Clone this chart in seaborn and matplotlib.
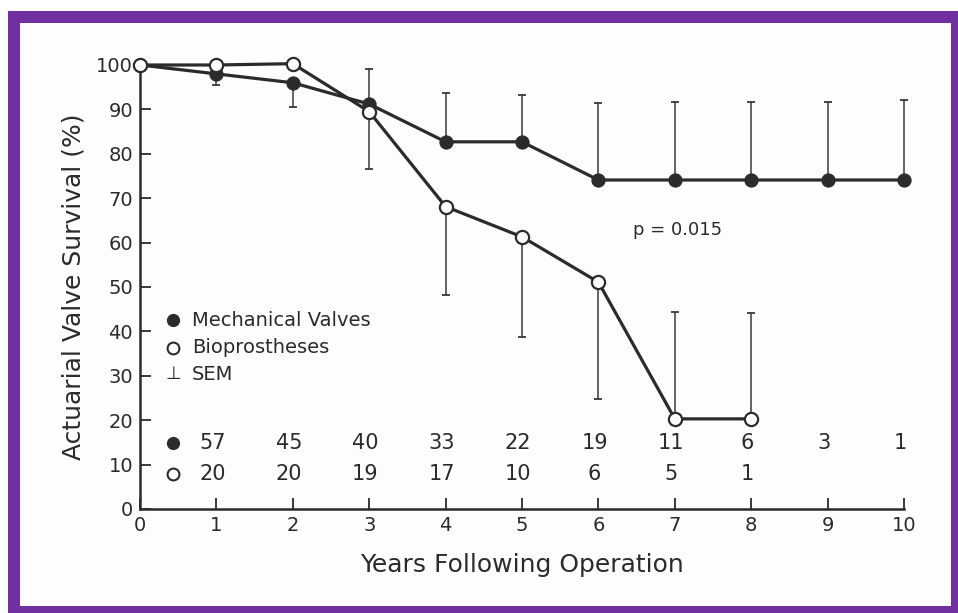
import matplotlib
matplotlib.use("Agg")
import matplotlib.pyplot as plt
import seaborn as sns
import pandas as pd
from matplotlib.patches import Rectangle

# ---- data ----
years_mech = [0, 1, 2, 3, 4, 5, 6, 7, 8, 9, 10]
survival_mech = [100, 98, 96, 91.2, 82.7, 82.7, 74.1, 74.1, 74.1, 74.1, 74.1]
years_bio = [0, 1, 2, 3, 4, 5, 6, 7, 8]
survival_bio = [100, 100, 100.3, 89.5, 68.1, 61.3, 51.1, 20.3, 20.3]

# SEM bar end points (one-sided bars as drawn in the figure)
sem_years_mech = [1, 2, 3, 4, 5, 6, 7, 8, 9, 10]
sem_end_mech = [95.5, 90.6, 99.0, 93.7, 93.3, 91.4, 91.6, 91.6, 91.6, 92.1]
sem_years_bio = [3, 4, 5, 6, 7, 8]
sem_end_bio = [76.5, 48.3, 38.8, 24.7, 44.4, 44.1]

# numbers at risk
risk_years_mech = [1, 2, 3, 4, 5, 6, 7, 8, 9, 10]
risk_mech = ["57", "45", "40", "33", "22", "19", "11", "6", "3", "1"]
risk_years_bio = [1, 2, 3, 4, 5, 6, 7, 8]
risk_bio = ["20", "20", "19", "17", "10", "6", "5", "1"]

xticks = list(range(0, 11))
yticks = list(range(0, 101, 10))

sns.set_theme(style="white")
plt.rcParams['font.family'] = ['DejaVu Sans']

W, H = 958, 613
fig = plt.figure(figsize=(W / 100, H / 100), dpi=100)
fig.patch.set_facecolor("white")

# frame: purple border with inner page
bg = fig.add_axes([0, 0, 1, 1], zorder=-10)
bg.set_xlim(0, W)
bg.set_ylim(0, H)
bg.axis("off")
bg.add_patch(Rectangle((8, 0), W - 8, H - 11, facecolor="#7030a0", edgecolor="none"))
bg.add_patch(Rectangle((20, 7), 951 - 20, 590 - 7, facecolor="#fcfdfc", edgecolor="none"))

ax = fig.add_axes([140 / W, 104 / H, 764 / W, 444 / H], zorder=1)
ax.set_facecolor("none")

ink = "#2b2b2b"

df_m = pd.DataFrame({"Year": years_mech, "Survival": survival_mech})
df_b = pd.DataFrame({"Year": years_bio, "Survival": survival_bio})

# SEM bars
for x, ye, yv in zip(sem_years_mech, sem_end_mech, survival_mech[1:]):
    ax.plot([x, x], [yv, ye], color="#3a3a3a", lw=1.1, zorder=1, clip_on=False)
    ax.plot([x], [ye], marker="_", ms=6, mew=1.3, color="#3a3a3a", zorder=1, clip_on=False)
for x, ye in zip(sem_years_bio, sem_end_bio):
    yv = survival_bio[years_bio.index(x)]
    ax.plot([x, x], [yv, ye], color="#3a3a3a", lw=1.1, zorder=1, clip_on=False)
    ax.plot([x], [ye], marker="_", ms=6, mew=1.3, color="#3a3a3a", zorder=1, clip_on=False)

sns.lineplot(data=df_m, x="Year", y="Survival", ax=ax, color=ink, lw=2.3,
             marker="o", markersize=9.5, markerfacecolor=ink, markeredgecolor=ink,
             zorder=3, clip_on=False)
sns.lineplot(data=df_b, x="Year", y="Survival", ax=ax, color=ink, lw=2.3,
             marker="o", markersize=9.5, markerfacecolor="white", markeredgecolor=ink,
             markeredgewidth=1.6, zorder=4, clip_on=False)

ax.set_xlim(0, 10)
ax.set_ylim(0, 100)
ax.set_xticks(xticks)
ax.set_yticks(yticks)
ax.set_xticklabels([str(v) for v in xticks], fontsize=14, color=ink)
ax.set_yticklabels([str(v) for v in yticks], fontsize=14, color=ink)
ax.tick_params(axis="both", direction="in", length=8, width=1.3, color=ink,
               left=True, bottom=True, pad=5)
ax.tick_params(axis="y", pad=5)
for s in ["top", "right"]:
    ax.spines[s].set_visible(False)
for s in ["left", "bottom"]:
    ax.spines[s].set_color(ink)
    ax.spines[s].set_linewidth(1.8)

ax.set_xlabel("Years Following Operation", fontsize=18, color=ink, labelpad=13)
ax.set_ylabel("Actuarial Valve Survival (%)", fontsize=18, color=ink, labelpad=8)

# legend (as in figure)
ax.plot([0.43], [42.5], marker="o", ms=8.5, color=ink, clip_on=False)
ax.plot([0.43], [36.3], marker="o", ms=8.5, mfc="white", mec=ink, mew=1.5, clip_on=False)
ax.text(0.43, 30.3, "⊥", fontsize=13, ha="center", va="center", color=ink)
ax.text(0.68, 42.5, "Mechanical Valves", fontsize=14, va="center", color=ink)
ax.text(0.68, 36.3, "Bioprostheses", fontsize=14, va="center", color=ink)
ax.text(0.68, 30.3, "SEM", fontsize=14, va="center", color=ink)

# numbers at risk
ax.plot([0.43], [14.9], marker="o", ms=8.5, color=ink, clip_on=False)
ax.plot([0.43], [7.8], marker="o", ms=8.5, mfc="white", mec=ink, mew=1.5, clip_on=False)
for x, t in zip(risk_years_mech, risk_mech):
    ax.text(x - 0.05, 14.9, t, fontsize=15, ha="center", va="center", color=ink)
for x, t in zip(risk_years_bio, risk_bio):
    ax.text(x - 0.05, 7.8, t, fontsize=15, ha="center", va="center", color=ink)

ax.text(6.45, 62.8, "p = 0.015", fontsize=13, va="center", color=ink)

fig.savefig("out.png", dpi=100, facecolor=fig.get_facecolor())
